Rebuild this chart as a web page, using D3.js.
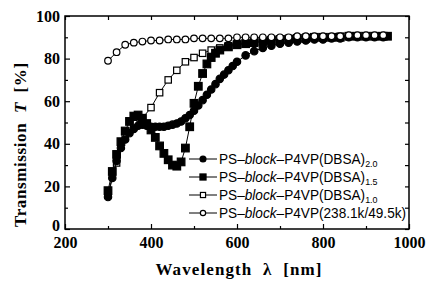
<!DOCTYPE html>
<html>
<head>
<meta charset="utf-8">
<script src="https://cdn.jsdelivr.net/npm/d3@7"></script>
<style>
  body { margin: 0; background: #fff; }
  svg { display: block; }
  text { white-space: pre; }
</style>
</head>
<body>
<script>
"use strict";

// DBSA 2.0, filled circles
var wlA = [300,310,320,330,340,350,360,370,380,390,400,410,420,430,440,450,460,470,480,490,500,510,520,530,540,550,560,570,580,590,600,620,640,660,680,700,720,740,760,780,800,820,840,860,880,900,920,940];
var tA  = [15,24,32,38,42,45,47,48.5,49,48.5,48,48,48,48,48.5,49,49.5,50.5,52,53.5,55.5,58,60.5,63,65.5,68,70.5,72.5,74.5,76.5,78.5,81.5,83.5,85,86,87,87.5,88,88.5,89,89,89.5,89.5,90,90,90,90,90];

// DBSA 1.5, filled squares
var wlB = [300,310,320,330,340,350,360,370,380,390,400,410,420,430,440,450,460,470,480,490,500,510,520,530,540,550,560,580,600,620,640,660,680,700,720,740,760,780,800,820,840,860,880,900,920,940,950];
var tB  = [18,27,35,41,46,50.5,53,53.5,52,49.5,46.5,43,39,35.5,32.5,30,29.5,31.5,38,48,59,67,73,77.5,80.5,82.5,84,85.5,86.5,87,87.5,88,88.5,89,89,89.5,89.5,90,90,90,90,90.5,90.5,90.5,90.5,90.5,90.5];

// DBSA 1.0, open squares
var wlC = [300,320,340,360,380,400,420,440,460,480,500,520,540,560,580,600,620,640,660,680,700,720,740,760,780,800,820,840,860,880,900,920,940];
var tC  = [17,31,43,49.5,52,57,64,70,74.5,78.5,80.5,82.5,84,85,86,87,87.5,88,88.5,89,89,89.5,89.5,90,90,90,90,90.5,90.5,90.5,90.5,90.5,90.5];

// neat block copolymer, open circles
var wlD = [300,320,340,360,380,400,420,440,460,480,500,520,540,560,580,600,620,640,660,680,700,720,740,760,780,800,820,840,860,880,900,920,940];
var tD  = [79,83,86.5,87.5,88,88.5,88.5,89,89,89,89.5,89.5,89.5,89.5,89.5,90,90,90,90,90,90,90,90.5,90.5,90.5,90.5,90.5,90.5,91,91,91,91,91];

var xTicks = [200,400,600,800,1000];
var xMinor = [300,500,700,900];
var yTicks = [0,20,40,60,80,100];
var yMinor = [10,30,50,70,90];

var legendSubs = ['2.0','1.5','1.0',null];

var width = 436, height = 281;
var margin = { left: 65, right: 27, top: 16, bottom: 52 };

var svg = d3.select('body').append('svg')
    .attr('width', width)
    .attr('height', height);

var x = d3.scaleLinear().domain([200, 1000]).range([margin.left, width - margin.right]);
var y = d3.scaleLinear().domain([0, 100]).range([height - margin.bottom, margin.top]);

var serif = '"Liberation Serif", "DejaVu Serif", serif';
var sans = '"Liberation Sans", Arial, sans-serif';

// axes: ticks inward, minor ticks shorter
function styleAxis(g) {
    g.select('.domain').remove();
    g.selectAll('.tick line').attr('stroke', '#000').attr('stroke-width', 1.2);
    g.selectAll('text').attr('font-family', serif).attr('font-weight', 'bold')
        .attr('font-size', 16).attr('fill', '#000');
}

var x0 = margin.left, x1 = width - margin.right, y0 = height - margin.bottom, y1 = margin.top;

svg.append('g').attr('transform', 'translate(0,' + y0 + ')')
    .call(d3.axisBottom(x).tickValues(xTicks).tickSize(-5).tickPadding(8).tickFormat(d3.format('d')))
    .call(styleAxis);
svg.append('g').attr('transform', 'translate(0,' + y0 + ')')
    .call(d3.axisBottom(x).tickValues(xMinor).tickSize(-3).tickFormat(''))
    .call(styleAxis);
svg.append('g').attr('transform', 'translate(0,' + y1 + ')')
    .call(d3.axisTop(x).tickValues(xTicks.concat(xMinor)).tickSize(-4).tickFormat(''))
    .call(styleAxis);

var yAxis = svg.append('g').attr('transform', 'translate(' + x0 + ',0)')
    .call(d3.axisLeft(y).tickValues(yTicks).tickSize(-5).tickPadding(5).tickFormat(d3.format('d')))
    .call(styleAxis);
// the "0" sits a little high in the scan, clear of the "200"
yAxis.selectAll('.tick text').filter(function(d) { return d === 0; }).attr('dy', '0.1em');
svg.append('g').attr('transform', 'translate(' + x0 + ',0)')
    .call(d3.axisLeft(y).tickValues(yMinor).tickSize(-3).tickFormat(''))
    .call(styleAxis);
svg.append('g').attr('transform', 'translate(' + x1 + ',0)')
    .call(d3.axisRight(y).tickValues(yTicks.concat(yMinor)).tickSize(-4).tickFormat(''))
    .call(styleAxis);

// frame
svg.append('rect')
    .attr('x', x0).attr('y', y1)
    .attr('width', x1 - x0).attr('height', y0 - y1)
    .attr('fill', 'none').attr('stroke', '#000').attr('stroke-width', 1.5);

// axis titles
svg.append('text')
    .attr('x', 239).attr('y', 275)
    .attr('text-anchor', 'middle')
    .attr('font-family', serif).attr('font-weight', 'bold').attr('font-size', 17)
    .attr('letter-spacing', 1.1)
    .text('Wavelength  \u03bb  [nm]');

var yt = svg.append('text')
    .attr('transform', 'translate(26,227) rotate(-90)')
    .attr('text-anchor', 'start')
    .attr('font-family', serif).attr('font-weight', 'bold').attr('font-size', 17)
    .attr('letter-spacing', 0.6);
yt.append('tspan').text('Transmission  ');
yt.append('tspan').attr('font-style', 'italic').text('T');
yt.append('tspan').text('  [%]');

// series
var series = [
    { wl: wlA, t: tA, shape: 'circle', fill: '#000' },
    { wl: wlB, t: tB, shape: 'square', fill: '#000' },
    { wl: wlC, t: tC, shape: 'square', fill: '#fff' },
    { wl: wlD, t: tD, shape: 'circle', fill: '#fff' }
];

var line = d3.line()
    .x(function(d) { return x(d[0]); })
    .y(function(d) { return y(d[1]); });

function drawMarker(g, s, cx, cy, k) {
    k = k || 1;
    if (s.shape === 'circle') {
        g.append('circle')
            .attr('cx', cx).attr('cy', cy)
            .attr('r', (s.fill === '#000' ? 3.7 : 3.3) * k)
            .attr('fill', s.fill).attr('stroke', '#000').attr('stroke-width', 1.2);
    } else {
        var h = (s.fill === '#000' ? 3.8 : 3.2) * k;
        g.append('rect')
            .attr('x', cx - h).attr('y', cy - h)
            .attr('width', 2 * h).attr('height', 2 * h)
            .attr('fill', s.fill).attr('stroke', '#000').attr('stroke-width', 1.2);
    }
}

// draw bottom-most first so the open circles end up on top like the scan
var order = [2, 0, 1, 3];
order.forEach(function(i) {
    var s = series[i];
    var pts = s.wl.map(function(w, k) { return [w, s.t[k]]; });
    var g = svg.append('g');
    g.append('path')
        .attr('d', line(pts))
        .attr('fill', 'none').attr('stroke', '#000').attr('stroke-width', 1);
    pts.forEach(function(p) { drawMarker(g, s, x(p[0]), y(p[1])); });
});

// legend
var legendY = [159, 177, 195, 213];
series.forEach(function(s, i) {
    var ly = legendY[i];
    var g = svg.append('g');
    g.append('line')
        .attr('x1', 189).attr('x2', 217).attr('y1', ly).attr('y2', ly)
        .attr('stroke', '#000').attr('stroke-width', 1);
    drawMarker(g, s, 203, ly, 0.8);

    var t = g.append('text')
        .attr('transform', 'translate(219,' + (ly + 5) + ') scale(0.94,1)')
        .attr('font-family', sans).attr('font-size', 14.5).attr('fill', '#000');
    t.append('tspan').text('PS\u2013');
    t.append('tspan').attr('font-style', 'italic').text('block');
    if (legendSubs[i]) {
        t.append('tspan').text('\u2013P4VP(DBSA)');
        t.append('tspan').attr('font-size', 9.5).attr('dy', 2.5).text(legendSubs[i]);
    } else {
        t.append('tspan').text('\u2013P4VP(238.1k/49.5k)');
    }
});
</script>
</body>
</html>
